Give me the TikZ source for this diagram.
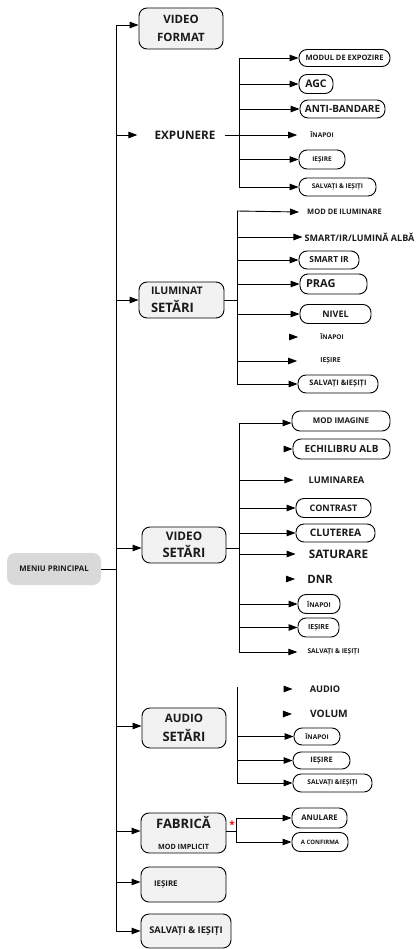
\documentclass[tikz,border=0pt]{standalone}
\usepackage{fontspec}
\setmainfont{Open Sans}
\usetikzlibrary{arrows.meta}
\definecolor{boxgray}{HTML}{F2F2F2}
\definecolor{menugray}{HTML}{D9D9D9}
\definecolor{txt}{HTML}{1A1A1A}
\newcommand{\fs}[2]{\fontsize{#1}{#2}\selectfont\bfseries}
\newcommand{\sz}[1]{\fontsize{#1}{#1}\selectfont}
\begin{document}
\begin{tikzpicture}[x=1pt,y=-1pt,
  ln/.style={line width=0.9pt, draw=black},
  arr/.style={ln, -{Triangle[length=9pt,width=6.5pt]}},
  mainbox/.style={draw=black, line width=0.9pt, fill=boxgray, rounded corners=8pt, inner sep=0pt, align=center, text=txt},
  menubox/.style={fill=menugray, rounded corners=8pt, inner sep=0pt, text=txt},
  pill/.style={draw=black, line width=0.9pt, fill=white, rounded corners=8pt, inner sep=0pt, text=txt},
  lbl/.style={inner sep=0pt, text=txt}
]
\useasboundingbox (0,0) rectangle (418,949);

% main trunk
\coordinate (T0) at (116,25);
\coordinate (T9) at (116,931);
\draw[ln] (T0) -- (T9);

\node[menubox, minimum width=94, minimum height=32] (menu) at (54,569) {\fs{7.8}{9}MENIU PRINCIPAL};
\draw[ln] (menu.east) -- (menu.east -| T0);

% VIDEO FORMAT
\node[mainbox, minimum width=84, minimum height=41, font={\fs{11.5}{18}}] (vf) at (181,28.5) {VIDEO\\FORMAT};
\draw[arr] (T0) -- (T0 -| vf.west);

% EXPUNERE
\node[lbl] (exp) at (185,135) {\fs{11.7}{14}EXPUNERE};
\draw[arr] (T0 |- exp) -- ([xshift=-17pt]exp.west);
\coordinate (S1a) at (239,58);
\coordinate (S1b) at (239,187);
\draw[ln] (S1a) -- (S1b);
\node[pill, minimum width=91, minimum height=17] (e1) at (344.5,58) {\fs{7.5}{9}MODUL DE EXPOZIRE};
\draw[arr] (S1a) -- (e1.west);
\node[pill, minimum width=34, minimum height=19] (e2) at (316,84) {\fs{10.5}{12}AGC};
\draw[arr] (S1a |- e2) -- (e2.west);
\node[pill, minimum width=85, minimum height=18] (e3) at (342.5,109) {\fs{10}{12}ANTI-BANDARE};
\draw[arr] (S1a |- e3) -- (e3.west);
\node[lbl] (e4) at (322,135) {\fs{6.5}{8}ÎNAPOI};
\draw[arr] ([xshift=9pt]exp.east) -- ([xshift=-13pt]e4.west);
\node[pill, minimum width=46, minimum height=19] (e5) at (322,159.5) {\fs{6.5}{8}IEȘIRE};
\draw[arr] (S1a |- e5) -- (e5.west);
\node[pill, minimum width=77, minimum height=18] (e6) at (337.5,187) {\fs{6.5}{8}SALVAȚI \& IEȘIȚI};
\draw[arr] (S1b) -- (e6.west);

% ILUMINAT SETARI
\node[mainbox, minimum height=36, text width=61pt, inner xsep=12pt, align=left, font={\fs{13}{18}}] (il) at (181.5,300) {{\sz{10.5}ILUMINAT}\\SETĂRI};
\draw[arr] (T0 |- il) -- (il.west);
\coordinate (S2a) at (237,211);
\coordinate (S2b) at (237,384);
\draw[ln] (S2a) -- (S2b);
\draw[ln] (il.east) -- (il.east -| S2a);
\node[lbl] (i1) at (344.5,212) {\fs{7.5}{9}MOD DE ILUMINARE};
\draw[arr] (S2a) -- ([xshift=-8pt]i1.west);
\node[lbl] (i2) at (359.5,237) {\fs{9}{11}SMART/IR/LUMINĂ ALBĂ};
\draw[arr] (S2a |- i2) -- ([xshift=-2pt]i2.west);
\node[pill, minimum width=60, minimum height=18] (i3) at (329,260) {\fs{8.4}{10}SMART IR};
\draw[arr] (S2a |- i3) -- (i3.west);
\node[pill, minimum height=20, text width=55pt, inner xsep=6pt, align=left] (i4) at (333.5,284) {\fs{11}{13}PRAG};
\draw[arr] (S2a |- i4) -- (i4.west);
\node[pill, minimum width=71, minimum height=19] (i5) at (335.5,314) {\fs{9}{11}NIVEL};
\draw[arr] (S2a |- i5) -- (i5.west);
\node[lbl] (i6) at (332,337) {\fs{6.5}{8}ÎNAPOI};
\draw[arr] ([xshift=-31pt]i6.west) -- ([xshift=-22pt]i6.west);
\node[lbl] (i7) at (330.5,361) {\fs{6.8}{8}IEȘIRE};
\draw[arr] (S2a |- i7) -- ([xshift=-23pt]i7.west);
\node[pill, minimum width=80, minimum height=18] (i8) at (338,384) {\fs{7.5}{9}SALVAȚI \&IEȘIȚI};
\draw[arr] (S2b) -- (i8.west);

% VIDEO SETARI
\node[mainbox, minimum width=84, minimum height=36, font={\fs{13}{17}}] (vs) at (184,545) {{\sz{11.8}VIDEO}\\SETĂRI};
\coordinate (T3) at (116,548);
\draw[arr] (T3) -- (T3 -| vs.west);
\coordinate (S3a) at (239,423);
\coordinate (S3b) at (239,652);
\draw[ln] (S3a) -- (S3b);
\draw[ln] (T3 -| vs.east) -- (T3 -| S3a);
\node[pill, minimum width=98, minimum height=20] (v1) at (341,421) {\fs{7.9}{9}MOD IMAGINE};
\draw[arr] (S3a) -- (S3a -| v1.west);
\node[pill, minimum width=97, minimum height=20] (v2) at (341.5,449) {\fs{9.9}{12}ECHILIBRU ALB};
\draw[arr] ([xshift=-9pt]v2.west) -- (v2.west);
\node[lbl] (v3) at (336.5,480) {\fs{9.3}{11}LUMINAREA};
\draw[arr] (S3a |- v3) -- ([xshift=-15pt]v3.west);
\node[pill, minimum width=75, minimum height=19] (v4) at (333.5,508) {\fs{9}{11}CONTRAST};
\draw[arr] (S3a |- v4) -- (v4.west);
\node[pill, minimum width=79, minimum height=18] (v5) at (335.5,533) {\fs{10.3}{12}CLUTEREA};
\draw[arr] (S3a |- v5) -- (v5.west);
\node[lbl] (v6) at (338.5,554) {\fs{11.7}{14}SATURARE};
\draw[arr] (S3a |- v6) -- ([xshift=-13pt]v6.west);
\node[lbl] (v7) at (320,579) {\fs{11.5}{14}DNR};
\draw[arr] ([xshift=-21pt]v7.west) -- ([xshift=-12pt]v7.west);
\node[pill, minimum width=42, minimum height=19] (v8) at (319,604) {\fs{6.6}{8}ÎNAPOI};
\draw[arr] (S3a |- v8) -- (v8.west);
\node[pill, minimum width=41, minimum height=19] (v9) at (318.5,627.5) {\fs{7}{8}IEȘIRE};
\draw[arr] (S3a |- v9) -- (v9.west);
\node[lbl] (v10) at (333.5,652) {\fs{6.6}{8}SALVAȚI \& IEȘIȚI};
\draw[arr] (S3b) -- ([xshift=-10pt]v10.west);

% AUDIO SETARI
\node[mainbox, minimum width=84, minimum height=40, font={\fs{13}{19}}] (as) at (184,728) {{\sz{11.6}AUDIO}\\SETĂRI};
\coordinate (T4) at (116,726);
\draw[arr] (T4) -- (T4 -| as.west);
\coordinate (S4a) at (237,687);
\coordinate (S4b) at (237,783);
\draw[ln] (S4a) -- (S4b);
\node[lbl] (a1) at (325,689) {\fs{9.2}{11}AUDIO};
\draw[arr] ([xshift=-26pt]a1.west) -- ([xshift=-17pt]a1.west);
\node[lbl] (a2) at (329,714) {\fs{10.2}{12}VOLUM};
\draw[arr] ([xshift=-27pt]a2.west) -- ([xshift=-18pt]a2.west);
\node[pill, minimum width=46, minimum height=17] (a3) at (317,736.5) {\fs{6.5}{8}ÎNAPOI};
\draw[arr] (S4a |- a3) -- (a3.west);
\node[pill, minimum width=57, minimum height=17] (a4) at (321.5,760.5) {\fs{7.5}{9}IEȘIRE};
\draw[arr] (S4a |- a4) -- (a4.west);
\node[pill, minimum width=79, minimum height=18] (a5) at (332.5,783) {\fs{6.6}{8}SALVAȚI \&IEȘIȚI};
\draw[arr] (S4b) -- (a5.west);

% FABRICA
\node[mainbox, minimum width=85, minimum height=40, font={\fs{13}{21}}] (fb) at (183.5,833) {FABRICĂ\\{\sz{7.2}MOD IMPLICIT}};
\coordinate (T5) at (116,831);
\draw[arr] (T5) -- (T5 -| fb.west);
\coordinate (S5a) at (236,818);
\coordinate (S5b) at (236,842);
\draw[ln] (S5a) -- (S5b);
\draw[ln] (T5 -| fb.east) -- (T5 -| S5a);
\node[lbl, text=red] (ast) at (232,825) {\fs{10}{10}*};
\node[pill, minimum width=55, minimum height=20] (f1) at (319.5,818) {\fs{7.7}{9}ANULARE};
\draw[arr] (S5a) -- (f1.west);
\node[pill, minimum width=56, minimum height=19] (f2) at (320,842) {\fs{6}{8}A CONFIRMA};
\draw[arr] (S5b) -- (f2.west);

% IESIRE
\node[mainbox, minimum height=35, text width=59pt, inner xsep=13pt, align=left] (ie) at (183.5,884.5) {\fs{7.9}{9}IEȘIRE};
\coordinate (T6) at (116,882);
\draw[arr] (T6) -- (T6 -| ie.west);

% SALVATI
\node[mainbox, minimum width=90, minimum height=34] (sv) at (186,931) {\fs{9.3}{11}SALVAȚI \& IEȘIȚI};
\draw[arr] (T9) -- (T9 -| sv.west);
\end{tikzpicture}
\end{document}
